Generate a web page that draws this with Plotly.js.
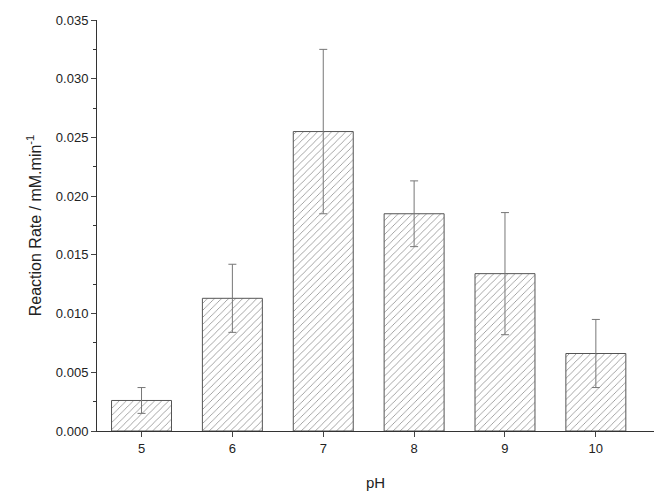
<!DOCTYPE html>
<html>
<head>
<script src="https://cdn.plot.ly/plotly-3.0.1.min.js"></script>
<style>body{margin:0;background:#fff}</style>
</head>
<body>
<div id="chart" style="width:656px;height:493px"></div>
<script>
// values
var phValues = [5, 6, 7, 8, 9, 10];
var rates = [0.0026, 0.0113, 0.0255, 0.0185, 0.0134, 0.0066];
var rateErrors = [0.0011, 0.0029, 0.0070, 0.0028, 0.0052, 0.0029];

var data = [{
  type: "bar",
  x: phValues,
  y: rates,
  width: 0.66,
  marker: {
    color: "#ffffff",
    line: {color: "#555", width: 1},
    pattern: {shape: "/", fgcolor: "#888", bgcolor: "#fff", size: 5, solidity: 0.15}
  },
  error_y: {type: "data", array: rateErrors, visible: true, color: "#777", thickness: 1, width: 4}
}];

var layout = {
  margin: {l: 97, r: 2, t: 20, b: 62},
  paper_bgcolor: "#fff",
  plot_bgcolor: "#fff",
  showlegend: false,
  font: {family: "Arial, Liberation Sans, sans-serif", size: 13, color: "#222"},
  xaxis: {
    range: [4.51, 10.64],
    tickvals: phValues,
    ticks: "outside", ticklen: 5,
    showgrid: false, zeroline: false,
    showline: true, linecolor: "#333",
    title: {text: "pH", font: {size: 15}, standoff: 22}
  },
  yaxis: {
    range: [0, 0.035],
    dtick: 0.005,
    tickformat: ".3f",
    ticks: "outside", ticklen: 5,
    minor: {dtick: 0.0025, ticks: "outside", ticklen: 3, tickcolor: "#333"},
    showgrid: false, zeroline: false,
    showline: true, linecolor: "#333",
    title: {text: "Reaction Rate / mM.min<sup>-1</sup>", font: {size: 16}, standoff: 10}
  }
};

Plotly.newPlot("chart", data, layout, {displayModeBar: false});
</script>
</body>
</html>
